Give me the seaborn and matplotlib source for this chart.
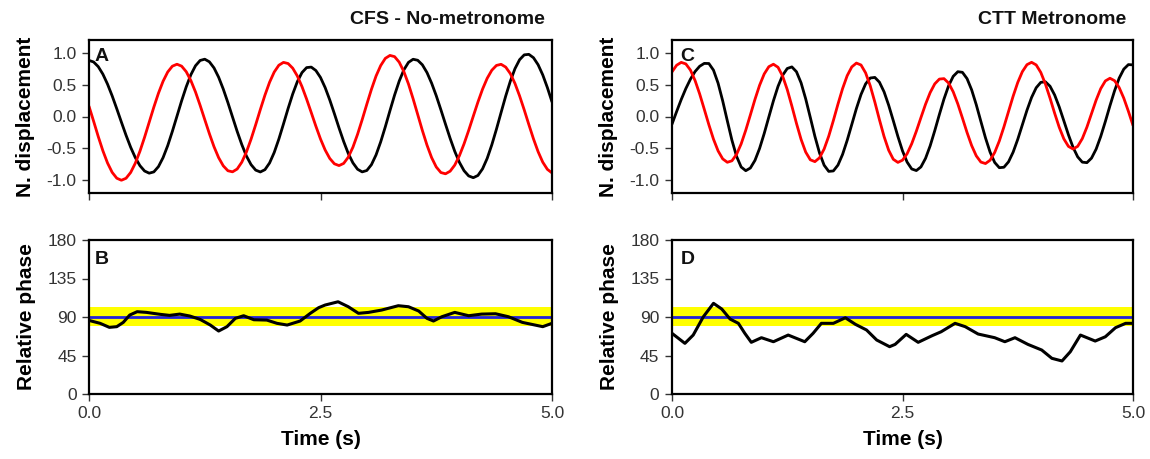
import numpy as np
import pandas as pd
import matplotlib
matplotlib.use("Agg")
import matplotlib.pyplot as plt
import seaborn as sns

# ---------------- data ----------------
time_disp = [round(i * 0.05, 2) for i in range(101)]

# Panel A: CFS - No-metronome
disp_A_black = [0.88, 0.855, 0.782, 0.664, 0.508, 0.324, 0.121, -0.089, -0.294, -0.483,
                -0.645, -0.771, -0.855, -0.889, -0.869, -0.786, -0.645, -0.457, -0.234, 0.005,
                0.245, 0.466, 0.655, 0.796, 0.879, 0.899, 0.858, 0.762, 0.616, 0.430,
                0.218, -0.008, -0.233, -0.440, -0.620, -0.755, -0.841, -0.87, -0.834, -0.729,
                -0.565, -0.355, -0.118, 0.125, 0.353, 0.547, 0.689, 0.767, 0.775, 0.721,
                0.612, 0.454, 0.260, 0.044, -0.179, -0.391, -0.580, -0.727, -0.827, -0.869,
                -0.847, -0.756, -0.602, -0.398, -0.161, 0.091, 0.336, 0.555, 0.731, 0.849,
                0.898, 0.882, 0.811, 0.689, 0.523, 0.326, 0.106, -0.121, -0.343, -0.547,
                -0.719, -0.850, -0.932, -0.96, -0.925, -0.821, -0.657, -0.444, -0.199, 0.062,
                0.320, 0.554, 0.750, 0.891, 0.967, 0.975, 0.922, 0.812, 0.653, 0.454,
                0.229]
disp_A_red = [0.16, -0.075, -0.315, -0.538, -0.729, -0.876, -0.968, -1.0, -0.969, -0.878,
              -0.733, -0.545, -0.326, -0.09, 0.146, 0.365, 0.553, 0.698, 0.789, 0.82,
              0.790, 0.703, 0.564, 0.385, 0.175, -0.048, -0.269, -0.474, -0.646, -0.774,
              -0.851, -0.868, -0.824, -0.717, -0.557, -0.356, -0.129, 0.108, 0.335, 0.537,
              0.697, 0.804, 0.849, 0.831, 0.758, 0.635, 0.469, 0.273, 0.062, -0.152,
              -0.353, -0.525, -0.658, -0.742, -0.77, -0.736, -0.638, -0.482, -0.280, -0.050,
              0.192, 0.426, 0.635, 0.799, 0.912, 0.958, 0.939, 0.852, 0.705, 0.510,
              0.278, 0.03, -0.219, -0.449, -0.645, -0.792, -0.879, -0.899, -0.858, -0.762,
              -0.615, -0.430, -0.219, 0.005, 0.226, 0.429, 0.599, 0.726, 0.801, 0.819,
              0.775, 0.673, 0.518, 0.323, 0.104, -0.127, -0.351, -0.552, -0.716, -0.829,
              -0.885]

# Panel C: CTT Metronome
disp_C_black = [-0.12, 0.077, 0.266, 0.438, 0.586, 0.705, 0.788, 0.833, 0.831, 0.727,
                0.522, 0.244, -0.068, -0.372, -0.624, -0.792, -0.85, -0.808, -0.688, -0.501,
                -0.267, -0.009, 0.246, 0.473, 0.647, 0.753, 0.778, 0.702, 0.528, 0.277,
                -0.015, -0.312, -0.572, -0.764, -0.861, -0.854, -0.762, -0.595, -0.374, -0.125,
                0.125, 0.345, 0.512, 0.604, 0.613, 0.538, 0.387, 0.177, -0.065, -0.313,
                -0.539, -0.715, -0.823, -0.848, -0.791, -0.656, -0.46, -0.222, 0.032, 0.275,
                0.482, 0.630, 0.703, 0.693, 0.594, 0.418, 0.185, -0.077, -0.335, -0.559,
                -0.721, -0.803, -0.796, -0.711, -0.559, -0.358, -0.13, 0.098, 0.299, 0.451,
                0.536, 0.544, 0.475, 0.338, 0.150, -0.068, -0.288, -0.484, -0.633, -0.716,
                -0.724, -0.653, -0.512, -0.313, -0.079, 0.169, 0.403, 0.602, 0.743, 0.814,
                0.81]
disp_C_red = [0.70, 0.804, 0.849, 0.825, 0.728, 0.565, 0.354, 0.114, -0.130, -0.356,
              -0.540, -0.665, -0.718, -0.695, -0.595, -0.430, -0.215, 0.025, 0.269, 0.490,
              0.667, 0.781, 0.82, 0.772, 0.633, 0.422, 0.164, -0.108, -0.359, -0.558,
              -0.679, -0.708, -0.648, -0.510, -0.308, -0.064, 0.194, 0.437, 0.640, 0.778,
              0.838, 0.808, 0.684, 0.482, 0.226, -0.051, -0.314, -0.529, -0.671, -0.72,
              -0.685, -0.584, -0.427, -0.231, -0.017, 0.193, 0.375, 0.512, 0.587, 0.594,
              0.525, 0.387, 0.197, -0.024, -0.251, -0.456, -0.617, -0.715, -0.738, -0.686,
              -0.564, -0.384, -0.163, 0.079, 0.319, 0.534, 0.704, 0.813, 0.85, 0.809,
              0.691, 0.51, 0.288, 0.052, -0.17, -0.351, -0.469, -0.51, -0.468, -0.347,
              -0.167, 0.045, 0.257, 0.437, 0.558, 0.60, 0.562, 0.454, 0.288, 0.082,
              -0.14]

# Panel B: relative phase (CFS)
time_phase_B = [0.0, 0.12, 0.22, 0.30, 0.37, 0.44, 0.52, 0.62, 0.77, 0.87, 0.98, 1.09,
                1.20, 1.31, 1.40, 1.49, 1.58, 1.67, 1.78, 1.92, 2.03, 2.14, 2.28, 2.39,
                2.48, 2.55, 2.69, 2.80, 2.91, 3.02, 3.16, 3.34, 3.45, 3.56, 3.65, 3.72,
                3.81, 3.95, 4.10, 4.24, 4.39, 4.53, 4.68, 4.90, 5.0]
phase_B = [86.0, 82.6, 77.9, 78.7, 83.7, 92.3, 96.2, 95.4, 93.1, 91.9, 93.4, 91.1,
           87.2, 80.6, 73.6, 78.7, 88.4, 91.5, 86.8, 86.4, 82.6, 80.6, 85.3, 94.3,
           100.9, 104.0, 107.8, 102.0, 94.3, 95.4, 98.1, 103.2, 102.0, 97.0, 88.4, 85.3,
           90.3, 95.4, 91.5, 93.4, 93.8, 90.3, 83.7, 78.7, 82.6]

# Panel D: relative phase (CTT)
time_phase_D = [0.0, 0.14, 0.23, 0.34, 0.45, 0.54, 0.63, 0.72, 0.79, 0.86, 0.97, 1.10,
                1.26, 1.44, 1.53, 1.62, 1.75, 1.88, 1.99, 2.11, 2.22, 2.36, 2.42, 2.54,
                2.67, 2.82, 2.92, 3.07, 3.18, 3.32, 3.50, 3.61, 3.72, 3.86, 4.01, 4.12,
                4.23, 4.32, 4.43, 4.59, 4.70, 4.81, 4.92, 5.0]
phase_D = [70.9, 59.2, 68.9, 90.3, 106.0, 99.3, 87.6, 82.6, 70.9, 60.4, 65.8, 61.1,
           68.9, 61.1, 70.9, 82.6, 82.6, 89.1, 81.4, 74.8, 63.1, 55.3, 58.0, 69.7,
           60.4, 68.1, 72.8, 82.6, 78.7, 70.1, 65.8, 61.1, 65.8, 58.0, 51.4, 41.7,
           38.6, 49.4, 68.9, 61.9, 66.9, 77.5, 82.6, 82.6]

target_phase = 90
band_low, band_high = 79.5, 101.5

titles = ["CFS - No-metronome", "CTT Metronome"]
panel_letters = ["A", "B", "C", "D"]
disp_ticks = [-1.0, -0.5, 0.0, 0.5, 1.0]
phase_ticks = [0, 45, 90, 135, 180]
time_ticks = [0.0, 2.5, 5.0]

# ---------------- style ----------------
sns.set_theme(style="white")
plt.rcParams["font.family"] = ["Liberation Sans", "DejaVu Sans"]
plt.rcParams["axes.edgecolor"] = "black"
plt.rcParams["axes.linewidth"] = 1.6

fig = plt.figure(figsize=(11.5, 4.59), dpi=100)
W, H = 1150, 459

def ax_rect(x0, x1, y0, y1):
    return [x0 / W, 1 - y1 / H, (x1 - x0) / W, (y1 - y0) / H]

cols = [(89, 552), (672, 1133)]
rows = [(40, 193), (240, 394)]

tick_col = "#333333"

def style_axis(ax):
    for s in ax.spines.values():
        s.set_visible(True)
        s.set_color("black")
        s.set_linewidth(1.6)
    ax.tick_params(axis="both", direction="out", length=5, width=1.0,
                   colors=tick_col, labelsize=12.5, left=True, bottom=True, pad=4)
    ax.set_xlim(0, 5)
    ax.set_xticks(time_ticks)

disp_sets = [(disp_A_black, disp_A_red), (disp_C_black, disp_C_red)]
phase_sets = [(time_phase_B, phase_B), (time_phase_D, phase_D)]

for c in range(2):
    # displacement panel
    ax = fig.add_axes(ax_rect(cols[c][0], cols[c][1], rows[0][0], rows[0][1]))
    dfk = pd.DataFrame({"t": time_disp, "v": disp_sets[c][0]})
    dfr = pd.DataFrame({"t": time_disp, "v": disp_sets[c][1]})
    sns.lineplot(data=dfk, x="t", y="v", ax=ax, color="black", lw=2.0, estimator=None, sort=False)
    sns.lineplot(data=dfr, x="t", y="v", ax=ax, color="#ff0000", lw=2.0, estimator=None, sort=False)
    style_axis(ax)
    ax.set_ylim(-1.2, 1.2)
    ax.set_yticks(disp_ticks)
    ax.set_yticklabels([f"{v:.1f}" for v in disp_ticks])
    ax.set_xticklabels([])
    ax.set_xlabel("")
    ax.set_ylabel("N. displacement", fontsize=15, fontweight="bold", color="black", labelpad=8)
    ax.text(0.985, 1.08, titles[c], transform=ax.transAxes, ha="right", va="bottom",
            fontsize=14, fontweight="bold", color="#111111")
    ax.text(0.012 if c == 0 else 0.018, 0.95, panel_letters[2 * c], transform=ax.transAxes,
            fontsize=14, fontweight="bold", va="top", ha="left", color="#111111")

    # phase panel
    ax2 = fig.add_axes(ax_rect(cols[c][0], cols[c][1], rows[1][0], rows[1][1]))
    ax2.axhspan(band_low, band_high, color="#ffff00", lw=0, zorder=1)
    ax2.axhline(target_phase, color="#2424d8", lw=2.0, zorder=2)
    dfp = pd.DataFrame({"t": phase_sets[c][0], "v": phase_sets[c][1]})
    sns.lineplot(data=dfp, x="t", y="v", ax=ax2, color="black", lw=2.2, estimator=None,
                 sort=False, zorder=3, solid_joinstyle="round", solid_capstyle="round")
    style_axis(ax2)
    ax2.set_ylim(0, 180)
    ax2.set_yticks(phase_ticks)
    ax2.set_xticklabels([f"{v:.1f}" for v in time_ticks])
    ax2.set_xlabel("Time (s)", fontsize=15, fontweight="bold", color="black", labelpad=6)
    ax2.set_ylabel("Relative phase", fontsize=15, fontweight="bold", color="black", labelpad=8)
    ax2.text(0.012 if c == 0 else 0.018, 0.93, panel_letters[2 * c + 1], transform=ax2.transAxes,
             fontsize=14, fontweight="bold", va="top", ha="left", color="#111111")

fig.savefig("out.png", dpi=100)
